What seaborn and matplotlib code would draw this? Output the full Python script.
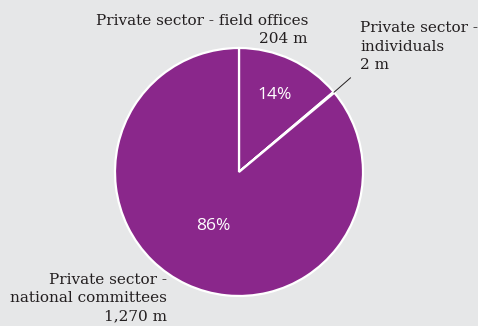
import numpy as np
import matplotlib
matplotlib.use("Agg")
import matplotlib.pyplot as plt
import seaborn as sns

# Private sector revenue by source (US$ millions)
sources = ["Private sector - field offices", "Private sector - individuals",
           "Private sector - national committees"]
amounts = [204, 2, 1270]
amount_labels = ["204 m", "2 m", "1,270 m"]
label_texts = ["Private sector - field offices", "Private sector -\nindividuals",
               "Private sector -\nnational committees"]
pct_labels = ["14%", None, "86%"]

sns.set_theme(style="white")
bg = "#e6e7e8"
purple = "#8a278b"
plt.rcParams["font.family"] = ["DejaVu Serif"]

fig = plt.figure(figsize=(4.78, 3.26), dpi=100, facecolor=bg)
ax = fig.add_axes([0, 0, 1, 1])
ax.set_facecolor(bg)

wedges, _ = ax.pie(amounts, colors=[purple] * len(amounts), startangle=90,
                   counterclock=False, radius=1.0,
                   wedgeprops=dict(edgecolor="white", linewidth=1.6))

ax.set_xlim(-1.927, 1.927)
ax.set_ylim(-1.242, 1.387)
ax.set_aspect("equal")
ax.axis("off")

# Percent labels inside the slices
for w, pct, r in zip(wedges, pct_labels, [0.68, None, 0.48]):
    if pct is None:
        continue
    ang = np.deg2rad((w.theta1 + w.theta2) / 2)
    ax.text(r * np.cos(ang), r * np.sin(ang), pct, color="white",
            fontsize=12.5, ha="center", va="center", family=["Open Sans"])

txt_kw = dict(fontsize=11, color="#231f20", linespacing=1.38)
# field offices
ax.text(0.556, 1.275, label_texts[0] + "\n" + amount_labels[0],
        ha="right", va="top", multialignment="right", **txt_kw)
# individuals
ax.text(0.976, 1.215, label_texts[1] + "\n" + amount_labels[1],
        ha="left", va="top", multialignment="left", **txt_kw)
w1 = wedges[1]
a = np.deg2rad((w1.theta1 + w1.theta2) / 2)
ax.plot([np.cos(a), 0.9], [np.sin(a), 0.76], color="#231f20", lw=0.7)
# national committees
ax.text(-0.58, -0.815, label_texts[2] + "\n" + amount_labels[2],
        ha="right", va="top", multialignment="right", **txt_kw)

fig.savefig("out.png", dpi=100, facecolor=bg)
